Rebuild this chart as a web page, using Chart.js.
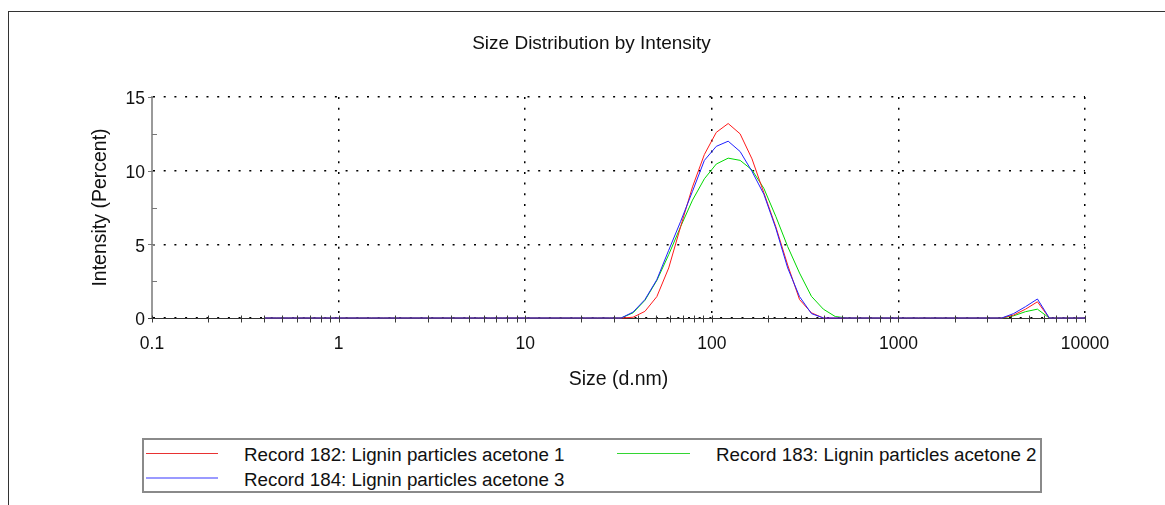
<!DOCTYPE html>
<html>
<head>
<meta charset="utf-8">
<script src="https://cdn.jsdelivr.net/npm/chart.js@4.4.1/dist/chart.umd.min.js"></script>
<style>
  html, body { margin: 0; padding: 0; background: #fff; overflow: hidden; }
  body { width: 1165px; height: 505px; position: relative; font-family: "Liberation Sans", Arial, sans-serif; color: #111; }
  #frame { position: absolute; left: 8px; top: 11px; width: 1200px; height: 600px; border-left: 1px solid #333; border-top: 1px solid #333; }
  #wrap { position: absolute; left: 0; top: 0; width: 1165px; height: 400px; }
  #legend { position: absolute; left: 142px; top: 438px; width: 896px; height: 51px; border: 2px solid #8a8a8a; }
  .lg-line { position: absolute; }
  .lg-text { position: absolute; font-size: 18.8px; line-height: 20px; white-space: nowrap; color: #111; }
</style>
</head>
<body>
<div id="frame"></div>
<div id="wrap"><canvas id="chart"></canvas></div>
<div id="legend"></div>

<script>
// size classes (d.nm)
const sizes = [
  0.4, 0.4632, 0.5365, 0.6213, 0.7195, 0.8332, 0.9649, 1.117, 1.294, 1.499,
  1.736, 2.010, 2.328, 2.696, 3.122, 3.615, 4.187, 4.849, 5.615, 6.503,
  7.531, 8.721, 10.10, 11.70, 13.54, 15.69, 18.17, 21.04, 24.36, 28.21,
  32.67, 37.84, 43.82, 50.75, 58.77, 68.06, 78.82, 91.28, 105.7, 122.4,
  141.8, 164.2, 190.1, 220.2, 255.0, 295.3, 342.0, 396.1, 458.7, 531.2,
  615.1, 712.4, 825.0, 955.4, 1106, 1281, 1484, 1718, 1990, 2305,
  2669, 3091, 3580, 4145, 4801, 5560, 6439, 7456, 8635, 10000
];

// intensity (percent) per record
const record182 = [
  0, 0, 0, 0, 0, 0, 0, 0, 0, 0,
  0, 0, 0, 0, 0, 0, 0, 0, 0, 0,
  0, 0, 0, 0, 0, 0, 0, 0, 0, 0,
  0, 0.05, 0.45, 1.45, 3.4, 6.2, 8.9, 11.1, 12.6, 13.2,
  12.5, 10.8, 8.5, 6.2, 3.6, 1.25, 0.35, 0, 0, 0,
  0, 0, 0, 0, 0, 0, 0, 0, 0, 0,
  0, 0, 0, 0.2, 0.6, 1.1, 0, 0, 0, 0
];
const record183 = [
  0, 0, 0, 0, 0, 0, 0, 0, 0, 0,
  0, 0, 0, 0, 0, 0, 0, 0, 0, 0,
  0, 0, 0, 0, 0, 0, 0, 0, 0, 0,
  0, 0.35, 1.2, 2.55, 4.3, 6.2, 8.0, 9.45, 10.45, 10.85,
  10.7, 10.05, 8.8, 6.9, 4.85, 3.05, 1.47, 0.6, 0.1, 0,
  0, 0, 0, 0, 0, 0, 0, 0, 0, 0,
  0, 0, 0, 0.15, 0.43, 0.6, 0, 0, 0, 0
];
const record184 = [
  0, 0, 0, 0, 0, 0, 0, 0, 0, 0,
  0, 0, 0, 0, 0, 0, 0, 0, 0, 0,
  0, 0, 0, 0, 0, 0, 0, 0, 0, 0,
  0, 0.4, 1.25, 2.6, 4.6, 6.55, 8.6, 10.7, 11.65, 12.0,
  11.3, 9.95, 8.4, 6.1, 3.4, 1.45, 0.3, 0, 0, 0,
  0, 0, 0, 0, 0, 0, 0, 0, 0, 0,
  0, 0, 0, 0.3, 0.77, 1.29, 0, 0, 0, 0
];

const seriesLabels = [
  "Record 182: Lignin particles acetone 1",
  "Record 183: Lignin particles acetone 2",
  "Record 184: Lignin particles acetone 3"
];

const xDecades = [0.1, 1, 10, 100, 1000, 10000];
const xTickLabels = ["0.1", "1", "10", "100", "1000", "10000"];
const yTickLabels = [0, 5, 10, 15];

const FONT = "'Liberation Sans', Arial, sans-serif";

// minor ticks 2..9 in each decade
const xTicks = [];
xDecades.forEach((d, i) => {
  xTicks.push({ value: d, major: true });
  if (i < xDecades.length - 1) {
    for (let m = 2; m <= 9; m++) xTicks.push({ value: +(d * m).toPrecision(3), major: false });
  }
});

const toPoints = vals => sizes.map((s, i) => ({ x: s, y: vals[i] }));

// small crossing ticks like the instrument software draws them
const axisTicks = {
  id: "axisTicks",
  afterDatasetsDraw(chart) {
    const { ctx, chartArea, scales } = chart;
    ctx.save();
    ctx.lineWidth = 1;
    ctx.strokeStyle = "#3a3a3a";
    const yb = Math.round(chartArea.bottom) + 0.5;
    scales.x.ticks.forEach(t => {
      const px = Math.round(scales.x.getPixelForValue(t.value)) + 0.5;
      ctx.beginPath();
      ctx.moveTo(px, yb - 3);
      ctx.lineTo(px, yb + 4);
      ctx.stroke();
    });
    ctx.beginPath();
    ctx.moveTo(chartArea.left - 4, yb);
    ctx.lineTo(chartArea.left, yb);
    ctx.stroke();
    ctx.strokeStyle = "#777";
    scales.y.ticks.forEach(t => {
      if (t.value === 0) return;
      const py = Math.round(scales.y.getPixelForValue(t.value)) + 0.5;
      const major = yTickLabels.includes(t.value);
      ctx.beginPath();
      ctx.moveTo(chartArea.left - (major ? 4 : 0), py);
      ctx.lineTo(chartArea.left + (major ? 3 : 5), py);
      ctx.stroke();
    });
    ctx.restore();
  }
};

const chart = new Chart(document.getElementById("chart"), {
  type: "line",
  data: {
    datasets: [
      { label: seriesLabels[0], data: toPoints(record182), borderColor: "#ff1a1a", borderWidth: 1, order: 1, clip: 4 },
      { label: seriesLabels[1], data: toPoints(record183), borderColor: "#00d800", borderWidth: 1, order: 2, clip: 4 },
      { label: seriesLabels[2], data: toPoints(record184), borderColor: "#1f1fff", borderWidth: 1, order: 0, clip: 4 }
    ]
  },
  options: {
    responsive: true,
    maintainAspectRatio: false,
    devicePixelRatio: 1,
    animation: false,
    layout: { padding: { left: 18, right: 0, top: 0, bottom: 0 } },
    elements: { point: { radius: 0 }, line: { tension: 0 } },
    plugins: {
      legend: { display: false },
      tooltip: { enabled: false },
      title: {
        display: true,
        text: "Size Distribution by Intensity",
        color: "#111",
        font: { family: FONT, size: 19, weight: "normal" },
        padding: { top: 32.6, bottom: 41.6 }
      }
    },
    scales: {
      x: {
        type: "logarithmic",
        min: 0.1,
        max: 10000,
        afterBuildTicks: s => { s.ticks = xTicks.map(t => ({ ...t })); },
        afterFit: s => { s.height = 82; },
        ticks: {
          autoSkip: false,
          maxRotation: 0,
          padding: 15.5,
          color: "#111",
          font: { family: FONT, size: 17.5 },
          callback: v => {
            const i = xDecades.indexOf(v);
            return i >= 0 ? xTickLabels[i] : "";
          }
        },
        grid: {
          drawTicks: false,
          color: "#000",
          lineWidth: c => (c.tick && c.tick.major ? 1.5 : 0)
        },
        border: { color: "#333", width: 1, dash: [2, 8.7] },
        title: {
          display: true,
          text: "Size (d.nm)",
          color: "#111",
          font: { family: FONT, size: 19.5 },
          padding: { top: 0, bottom: 8.3 }
        }
      },
      y: {
        type: "linear",
        min: 0,
        max: 15,
        afterFit: s => { s.width = 134; },
        ticks: {
          stepSize: 2.5,
          padding: 7,
          labelOffset: 2.5,
          color: "#111",
          font: { family: FONT, size: 17.5 },
          callback: v => (yTickLabels.includes(v) ? String(v) : "")
        },
        grid: {
          drawTicks: false,
          color: "#000",
          lineWidth: c => (c.tick && yTickLabels.includes(c.tick.value) ? 1.5 : 0)
        },
        border: { color: "#9a9a9a", width: 2, dash: [2, 8.7] },
        title: {
          display: true,
          text: "Intensity (Percent)",
          color: "#111",
          font: { family: FONT, size: 19.5 },
          padding: { top: 71.3, bottom: 0 }
        }
      },
      pad: {
        type: "linear",
        position: "right",
        afterFit: s => { s.width = 80; },
        grid: { display: false },
        ticks: { display: false },
        border: { display: false }
      }
    }
  },
  plugins: [axisTicks]
});

// legend, laid out in two columns as in the instrument report
const legendStyle = [
  { color: "#e83232", lineLeft: 2, lineTop: 13, lineW: 72, lineH: 1, textLeft: 100, textTop: 5.2 },
  { color: "#33d633", lineLeft: 473, lineTop: 13, lineW: 73, lineH: 1, textLeft: 572, textTop: 5.2 },
  { color: "#9a9aff", lineLeft: 2, lineTop: 37, lineW: 72, lineH: 2, textLeft: 100, textTop: 29.5 }
];
const legend = document.getElementById("legend");
seriesLabels.forEach((label, i) => {
  const st = legendStyle[i];
  const line = document.createElement("div");
  line.className = "lg-line";
  Object.assign(line.style, {
    left: st.lineLeft + "px", top: st.lineTop + "px",
    width: st.lineW + "px", height: st.lineH + "px", background: st.color
  });
  const text = document.createElement("div");
  text.className = "lg-text";
  text.style.left = st.textLeft + "px";
  text.style.top = st.textTop + "px";
  text.textContent = label;
  legend.appendChild(line);
  legend.appendChild(text);
});
</script>
</body>
</html>
